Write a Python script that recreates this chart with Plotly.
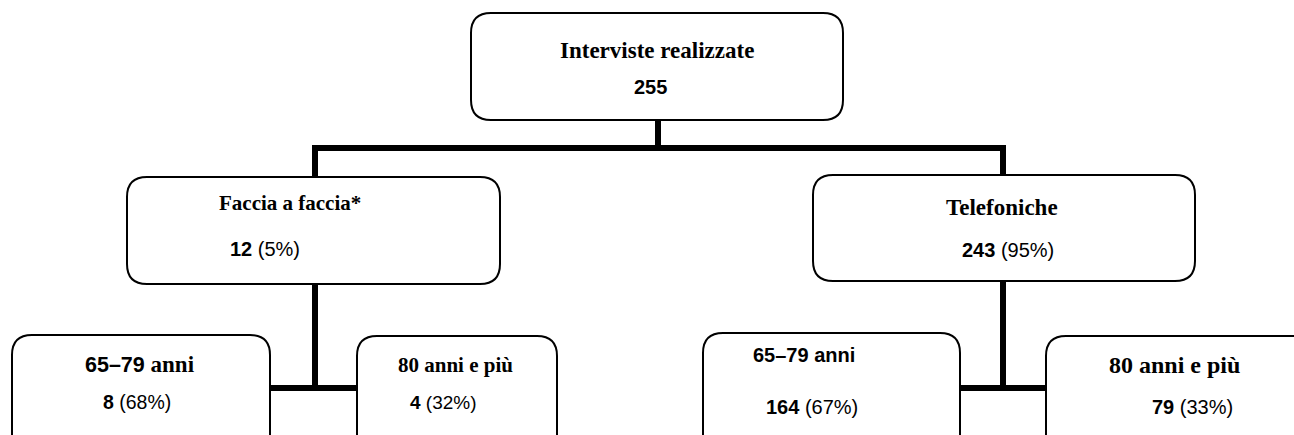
import plotly.graph_objects as go

# --- data -------------------------------------------------------------
node_titles = ["Interviste realizzate", "Faccia a faccia*", "Telefoniche",
               "65–79 anni", "80 anni e più", "65–79 anni", "80 anni e più"]
node_counts = [255, 12, 243, 8, 4, 164, 79]
node_pcts = [None, 5, 95, 68, 32, 67, 33]
node_parent = [None, 0, 0, 1, 1, 2, 2]
caption = "intervistati."

# --- layout (pixels, y down) -----------------------------------------
W, H = 1294, 435
SERIF = "Liberation Serif, Times New Roman, serif"
SANS = "Liberation Sans, Arial, sans-serif"

# box: x0, x1, y0, y1 ; title pos ; count pos
boxes = [
    dict(x0=471, x1=843, y0=13, y1=120, tx=657, ty=50, cx=650, cy=87),
    dict(x0=127, x1=500, y0=177, y1=284, tx=290, ty=203, cx=265, cy=249),
    dict(x0=813, x1=1195, y0=175, y1=281, tx=1002, ty=207, cx=1008, cy=250),
    dict(x0=12, x1=270, y0=335, y1=470, tx=140, ty=364, cx=137, cy=402),
    dict(x0=357, x1=557, y0=336, y1=470, tx=455, ty=365, cx=443, cy=402),
    dict(x0=703, x1=960, y0=333, y1=470, tx=804, ty=355, cx=812, cy=407),
    dict(x0=1046, x1=1330, y0=336, y1=470, tx=1174, ty=365, cx=1192, cy=407),
]
title_font = ["serif", "serif", "serif", "mixed", "serif", "sans", "serif"]
title_size = [23, 21, 23, 21.5, 21, 20, 24]
count_size = [20, 20, 20, 19.5, 19, 20, 20]


def rounded(x0, x1, y0, y1, r=20):
    return (f"M {x0+r},{y0} L {x1-r},{y0} Q {x1},{y0} {x1},{y0+r} "
            f"L {x1},{y1-r} Q {x1},{y1} {x1-r},{y1} L {x0+r},{y1} "
            f"Q {x0},{y1} {x0},{y1-r} L {x0},{y0+r} Q {x0},{y0} {x0+r},{y0} Z")


fig = go.Figure()
fig.add_trace(go.Scatter(x=[0, W], y=[0, H], mode="markers",
                         marker=dict(opacity=0), hoverinfo="skip", showlegend=False))

shapes = []
annotations = []

for i, b in enumerate(boxes):
    shapes.append(dict(type="path", path=rounded(b["x0"], b["x1"], b["y0"], b["y1"]),
                       xref="x", yref="y", line=dict(color="black", width=2),
                       fillcolor="white", layer="below"))

    # title
    t = node_titles[i]
    if title_font[i] == "mixed":
        num, rest = t.split(" ", 1)
        txt = (f"<b>{num}</b><span style='font-family:{SERIF};font-size:23px'>"
               f"<b> {rest}</b></span>")
        fam = SANS
    elif title_font[i] == "sans":
        txt, fam = f"<b>{t}</b>", SANS
    else:
        txt, fam = f"<b>{t}</b>", SERIF
    annotations.append(dict(x=b["tx"], y=b["ty"], xref="x", yref="y", text=txt,
                            showarrow=False,
                            font=dict(family=fam, size=title_size[i], color="black")))

    # count (+ percentage)
    c = f"<b>{node_counts[i]}</b>"
    if node_pcts[i] is not None:
        c += f" ({node_pcts[i]}%)"
    annotations.append(dict(x=b["cx"], y=b["cy"], xref="x", yref="y", text=c,
                            showarrow=False,
                            font=dict(family=SANS, size=count_size[i], color="black")))

# connectors
def seg(x0, y0, x1, y1):
    shapes.append(dict(type="line", x0=x0, y0=y0, x1=x1, y1=y1, xref="x", yref="y",
                       line=dict(color="black", width=6)))

top = boxes[0]
kids = [i for i, p in enumerate(node_parent) if p == 0]
bus_y = 148
px = 658
seg(px, top["y1"], px, bus_y)
kx = [315, 1003]
seg(kx[0] - 3, bus_y, kx[1] + 3, bus_y)
for k, x in zip(kids, kx):
    seg(x, bus_y, x, boxes[k]["y0"])

for p, x in zip(kids, kx):
    ch = [i for i, q in enumerate(node_parent) if q == p]
    by = 388
    seg(x, boxes[p]["y1"], x, by)
    seg(boxes[ch[0]]["x1"], by, boxes[ch[1]]["x0"], by)

annotations.append(dict(x=8, y=4, xref="x", yref="y", text=caption, showarrow=False,
                        xanchor="left", yanchor="bottom",
                        font=dict(family=SANS, size=20, color="black")))

fig.update_layout(
    width=W, height=H,
    margin=dict(l=0, r=0, t=0, b=0),
    paper_bgcolor="white", plot_bgcolor="white",
    xaxis=dict(range=[0, W], visible=False, fixedrange=True),
    yaxis=dict(range=[H, 0], visible=False, fixedrange=True),
    shapes=shapes, annotations=annotations,
    showlegend=False,
)

fig.write_html("out.html", config={"displayModeBar": False},
               post_script="document.body.style.margin='0';")
